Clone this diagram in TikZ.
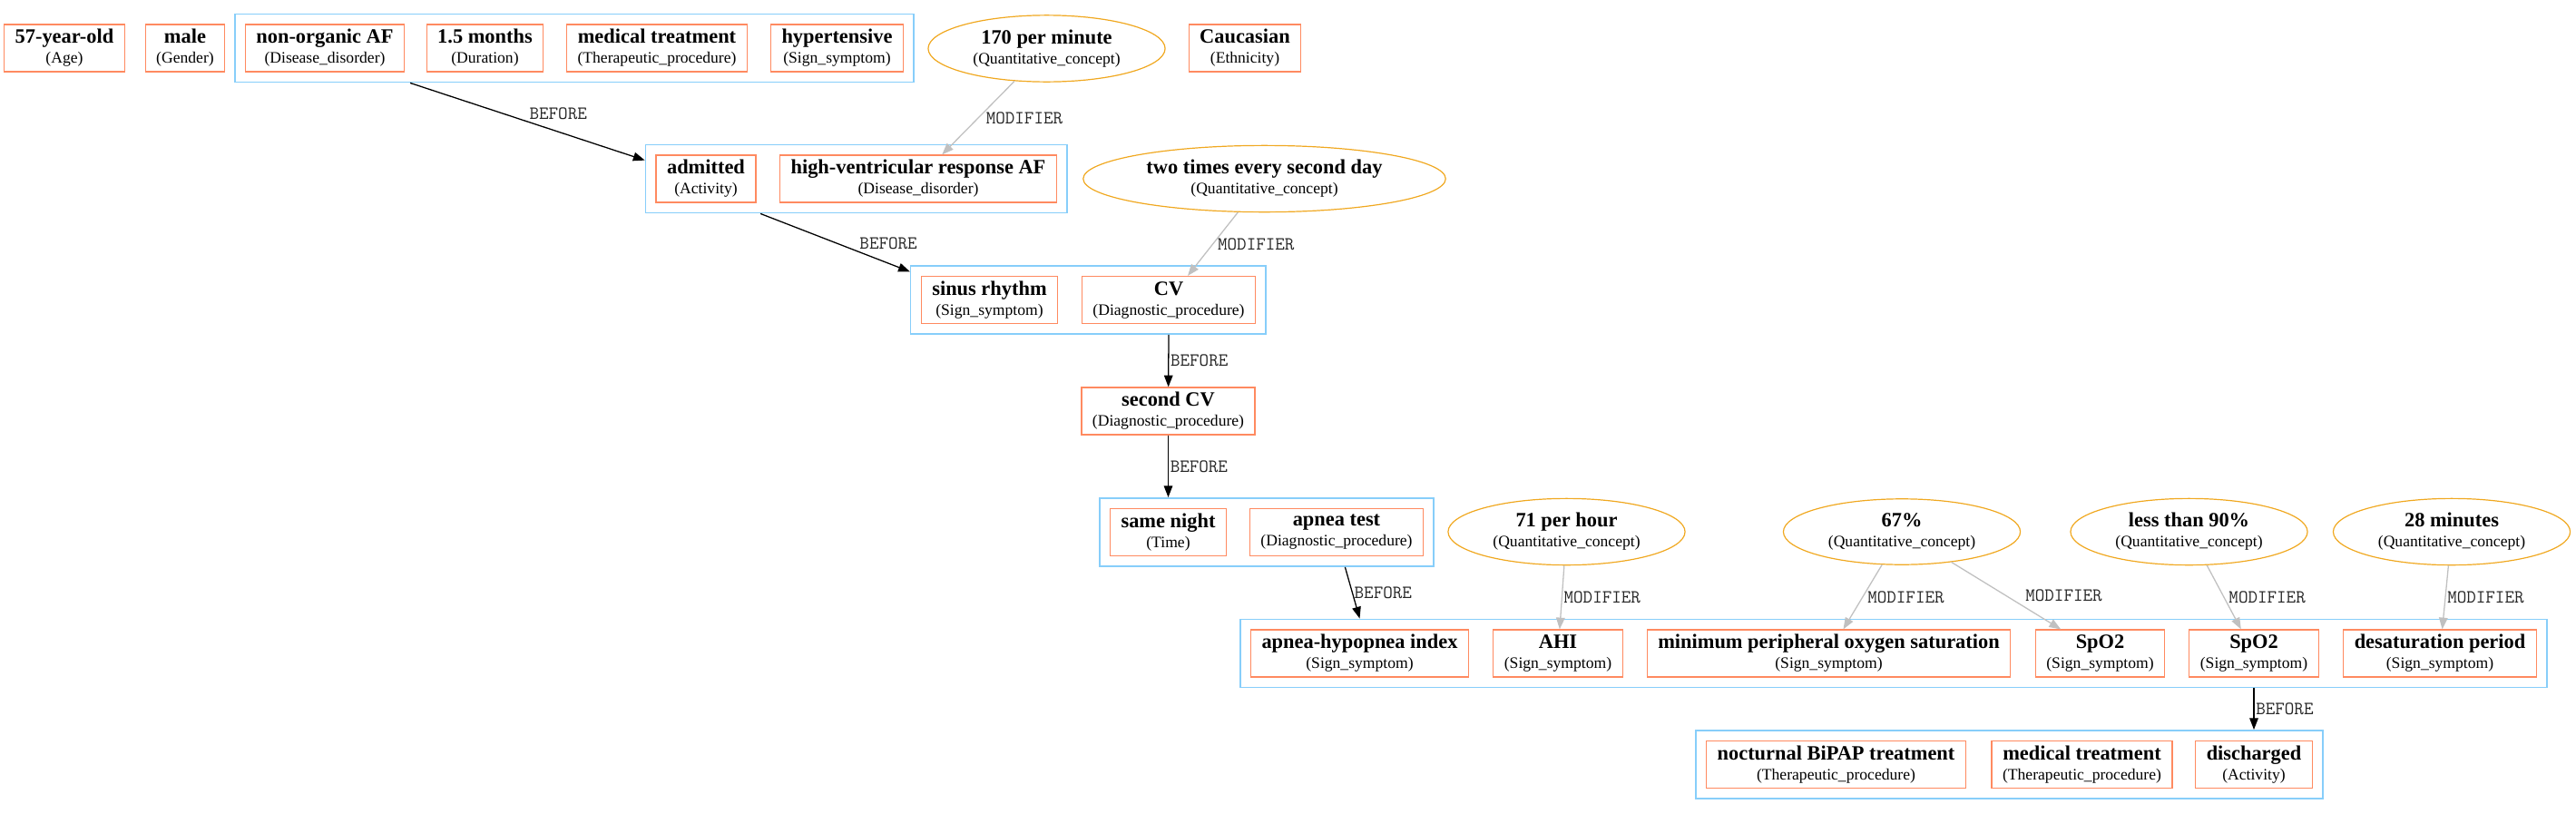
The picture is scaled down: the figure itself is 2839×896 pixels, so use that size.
\documentclass[tikz,border=0pt]{standalone}
\usepackage{fontspec}
\setmainfont{Liberation Serif}
\usetikzlibrary{arrows.meta,fit,shapes.geometric}
\definecolor{entline}{HTML}{FF8A60}
\definecolor{clusline}{HTML}{87CEFA}
\definecolor{quantline}{HTML}{F0A820}
\definecolor{modline}{HTML}{C0C0C0}
\newcommand{\ent}[2]{\textbf{#1}\\{\fontsize{11}{13.75}\selectfont(#2)}}
\tikzset{
	entity/.style={draw=entline, line width=0.75pt, rectangle, align=center, inner xsep=7.5pt, inner ysep=0pt, minimum height=32.5pt, font=\fontsize{14}{13.75}\selectfont},
	quant/.style={draw=quantline, line width=0.75pt, ellipse, align=center, inner xsep=7pt, inner ysep=3.3pt, font=\fontsize{14}{13.75}\selectfont},
	cluster/.style={draw=clusline, line width=1pt, rectangle, inner sep=6.9pt},
	before/.style={draw=black, line width=0.8pt, -{Triangle[length=8pt,width=6pt]}},
	modifier/.style={draw=modline, line width=0.8pt, -{Triangle[length=8pt,width=6pt]}},
	rel/.style={font=\fontsize{12.8}{13}\ttfamily, text=black!85, inner sep=1pt},
}

\begin{document}
\begin{tikzpicture}[x=0.625pt, y=-0.625pt]
			%%%%% START %%%%%
			\useasboundingbox (0,0) rectangle (2839,896);
			
			\node[entity] (age) at (71,53) {\ent{57-year-old}{Age}};
			\node[entity] (gender) at (204,53) {\ent{male}{Gender}};
			\node[entity] (nonorganic) at (358,53) {\ent{non-organic AF}{Disease\_disorder}};
			\node[entity] (duration) at (534.5,53) {\ent{1.5 months}{Duration}};
			\node[entity] (medtreat) at (724,53) {\ent{medical treatment}{Therapeutic\_procedure}};
			\node[entity] (hypert) at (922.5,53) {\ent{hypertensive}{Sign\_symptom}};
			\node[quant] (perminute) at (1153.5,53.5) {\ent{170 per minute}{Quantitative\_concept}};
			\node[entity] (caucasian) at (1372,53) {\ent{Caucasian}{Ethnicity}};
			
			\node[entity] (admitted) at (778,197) {\ent{admitted}{Activity}};
			\node[entity] (hvraf) at (1012,197) {\ent{high-ventricular response AF}{Disease\_disorder}};
			\node[quant] (twotimes) at (1393.5,197) {\ent{two times every second day}{Quantitative\_concept}};
			
			\node[entity] (sinus) at (1090.5,330.5) {\ent{sinus rhythm}{Sign\_symptom}};
			\node[entity] (cv) at (1288,330.5) {\ent{CV}{Diagnostic\_procedure}};
			
			\node[entity] (secondcv) at (1287.5,453) {\ent{second CV}{Diagnostic\_procedure}};
			
			\node[entity] (samenight) at (1287.5,586.5) {\ent{same night}{Time}};
			\node[entity] (apneatest) at (1473,586.5) {\ent{apnea test}{Diagnostic\_procedure}};
			\node[quant] (perhour) at (1726.5,586) {\ent{71 per hour}{Quantitative\_concept}};
			\node[quant] (sixtyseven) at (2096,586) {\ent{67\%}{Quantitative\_concept}};
			\node[quant] (below90) at (2412.5,586) {\ent{less than 90\%}{Quantitative\_concept}};
			\node[quant] (minutes) at (2702,586) {\ent{28 minutes}{Quantitative\_concept}};
			
			\node[entity] (ahindex) at (1498.5,720) {\ent{apnea-hypopnea index}{Sign\_symptom}};
			\node[entity] (ahi) at (1717,720) {\ent{AHI}{Sign\_symptom}};
			\node[entity] (minsat) at (2015.5,720) {\ent{minimum peripheral oxygen saturation}{Sign\_symptom}};
			\node[entity] (spoa) at (2314.5,720) {\ent{SpO2}{Sign\_symptom}};
			\node[entity] (spob) at (2484,720) {\ent{SpO2}{Sign\_symptom}};
			\node[entity] (desat) at (2689,720) {\ent{desaturation period}{Sign\_symptom}};
			
			\node[entity] (bipap) at (2023.5,842.5) {\ent{nocturnal BiPAP treatment}{Therapeutic\_procedure}};
			\node[entity] (medtreatb) at (2294.5,842.5) {\ent{medical treatment}{Therapeutic\_procedure}};
			\node[entity] (discharged) at (2484,842.5) {\ent{discharged}{Activity}};
			
			\node[cluster, fit=(nonorganic)(hypert)] (grp1) {};
			\node[cluster, fit=(admitted)(hvraf)] (grp2) {};
			\node[cluster, fit=(sinus)(cv)] (grp3) {};
			\node[cluster, fit=(samenight)(apneatest)] (grp4) {};
			\node[cluster, fit=(ahindex)(desat)] (grp5) {};
			\node[cluster, fit=(bipap)(discharged)] (grp6) {};
			
			\draw[before] (grp1.192) -- (grp2.175) node[rel, midway, anchor=south west] {BEFORE};
			\draw[modifier] (perminute) -- (hvraf) node[rel, midway, right=4pt] {MODIFIER};
			\draw[before] (grp2.200) -- (grp3.171) node[rel, pos=0.65, anchor=south west] {BEFORE};
			\draw[modifier] (twotimes) -- (cv) node[rel, midway, right=2pt] {MODIFIER};
			\draw[before] (grp3.south -| cv) -- (secondcv) node[rel, midway, right] {BEFORE};
			\draw[before] (secondcv) -- (grp4.north -| samenight) node[rel, midway, right] {BEFORE};
			\draw[before] (grp4.-24) -- (grp5.north -| ahindex) node[rel, midway, right] {BEFORE};
			
			\draw[modifier] (perhour) -- (ahi) node[rel, midway, right] {MODIFIER};
			\draw[modifier] (sixtyseven) -- (minsat) node[rel, midway, right=2pt] {MODIFIER};
			\draw[modifier] (sixtyseven) -- (spoa) node[rel, midway, right=12pt] {MODIFIER};
			\draw[modifier] (below90) -- (spob) node[rel, midway, right=2pt] {MODIFIER};
			\draw[modifier] (minutes) -- (desat) node[rel, midway, right] {MODIFIER};
			\draw[before] (grp5.south -| spob) -- (grp6.north -| discharged) node[rel, midway, right] {BEFORE};
			
			%%%%% END %%%%%
\end{tikzpicture}
\end{document}
